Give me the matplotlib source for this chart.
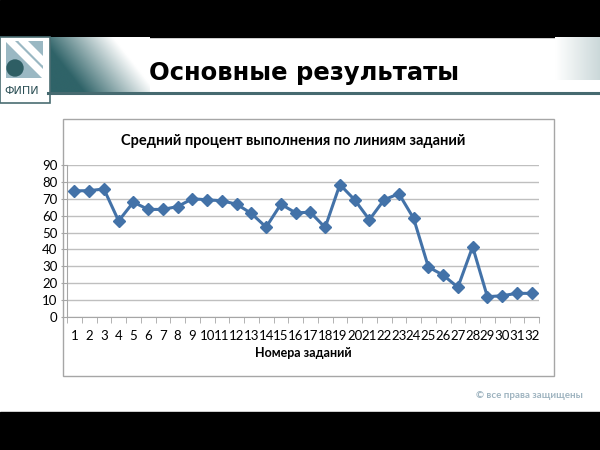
import numpy as np
import matplotlib.pyplot as plt
from matplotlib.patches import Rectangle, Circle, Polygon

plt.rcParams['font.family'] = ['Lato', 'DejaVu Sans']

tasks = list(range(1, 33))
percent = [74.7, 74.8, 75.8, 56.9, 68.0, 63.7, 63.7, 65.4,
           70.0, 69.4, 68.8, 66.8, 61.3, 53.2, 66.8, 61.7,
           62.0, 53.0, 78.4, 69.4, 57.6, 69.4, 73.0, 58.4,
           29.6, 24.8, 17.6, 41.6, 12.0, 12.6, 14.0, 14.0]
yticks = list(range(0, 100, 10))

W, H = 600, 450
fig = plt.figure(figsize=(6, 4.5), dpi=100)
fig.patch.set_facecolor('white')

# slide decorations in pixel coords
bg = fig.add_axes([0, 0, 1, 1])
bg.set_xlim(0, W)
bg.set_ylim(H, 0)
bg.axis('off')
bg.add_patch(Rectangle((0, 0), W, 37, color='black'))
bg.add_patch(Rectangle((0, 412), W, 38, color='black'))

# logo gradient
cmap = plt.matplotlib.colors.LinearSegmentedColormap.from_list('t', ['white', '#2f6368'])
gx, gy = np.meshgrid(np.linspace(0, 1, 200), np.linspace(0, 1, 60))
g = np.clip(1 - (gx * 1.4 - gy * 0.6 + 0.1), 0, 1)
bg.imshow(g, extent=(48, 150, 37, 93), origin='lower', cmap=cmap, aspect='auto', zorder=1)
gr = np.linspace(0, 1, 100)[None, :] * np.ones((40, 1))
bg.imshow(gr, extent=(555, 600, 80, 37), cmap=cmap, vmin=0, vmax=4, aspect='auto', zorder=1)
bg.add_patch(Rectangle((0, 37), 50, 66, facecolor='white', edgecolor='#4a6d72', lw=1.2, zorder=2))
bg.add_patch(Rectangle((6, 41), 37, 37, facecolor='#9ab8c3', zorder=3))
for off in (0, 13):
    bg.add_patch(Polygon([(6 + off, 41), (14 + off, 41), (43, 70 - off), (43, 78 - off)],
                         closed=True, color='white', zorder=4))
bg.add_patch(Circle((15, 68), 8, color='#2e5e64', zorder=5))
bg.text(22, 91, 'ФИПИ', ha='center', va='center', fontsize=8, color='#2b4f55',
        family=['DejaVu Sans'], zorder=5)
bg.plot([48, 600], [93, 93], color='#466a70', lw=2.2, zorder=2)

bg.text(304, 73, 'Основные результаты', ha='center', va='center', fontsize=17.5,
        fontweight='bold', family=['DejaVu Sans'], color='black')

# chart frame
bg.add_patch(Rectangle((63, 119), 491, 257, facecolor='white', edgecolor='#a6a6a6', lw=1.0))
bg.text(293, 141, 'Средний процент выполнения по линиям заданий', ha='center', va='center',
        fontsize=10.5, fontweight='bold', color='black')
bg.text(303, 353, 'Номера заданий', ha='center', va='center', fontsize=9,
        fontweight='bold', color='black')
bg.text(583, 395, '© все права защищены', ha='right', va='center', fontsize=7,
        fontweight='bold', color='#9fb4c0')

# chart
ax = fig.add_axes([67 / W, 1 - 317 / H, (539 - 67) / W, (317 - 165) / H])
ax.set_facecolor('none')
ax.plot(tasks, percent, '-D', color='#4372a8', lw=2.2, ms=6.5, clip_on=False, zorder=3)
ax.set_xlim(0.5, 32.5)
ax.set_ylim(0, 90)
ax.set_yticks(yticks)
ax.yaxis.grid(True, color='#bfbfbf', lw=1.0)
ax.set_axisbelow(True)
ax.set_xticks(tasks)
ax.set_xticklabels([str(t) for t in tasks], fontsize=9.5)
ax.set_xticks(np.arange(0.5, 33, 1), minor=True)
ax.tick_params(axis='x', which='major', length=0, pad=9)
ax.tick_params(axis='x', which='minor', length=4, color='#a6a6a6', direction='out')
ax.tick_params(axis='y', length=4, color='#a6a6a6', labelsize=9.5, pad=3)
for s in ('top', 'right'):
    ax.spines[s].set_visible(False)
for s in ('left', 'bottom'):
    ax.spines[s].set_color('#a6a6a6')

fig.savefig('out.png', dpi=100)
